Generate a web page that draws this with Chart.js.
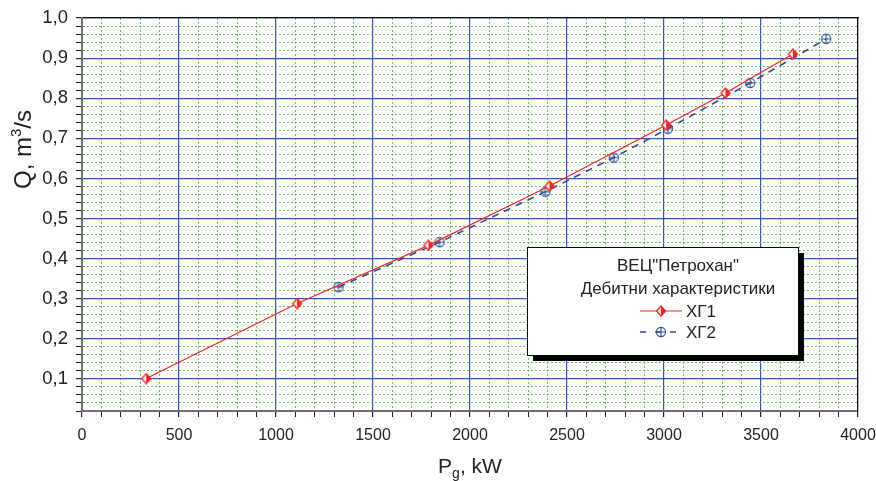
<!DOCTYPE html>
<html>
<head>
<meta charset="utf-8">
<script src="https://cdn.jsdelivr.net/npm/chart.js@4/dist/chart.umd.min.js"></script>
<style>
  body { margin: 0; background: #fff; }
  #wrap { width: 876px; height: 481px; }
</style>
</head>
<body>
<div id="wrap"><canvas id="chart"></canvas></div>
<script>
// ХГ1 and ХГ2 points (kW, m3/s)
const xg1Power = [331, 1109, 1786, 2410, 3011, 3317, 3664];
const xg1Flow = [0.101, 0.288, 0.433, 0.581, 0.733, 0.813, 0.910];
const xg2Power = [1322, 1843, 2389, 2741, 3020, 3444, 3836];
const xg2Flow = [0.329, 0.441, 0.567, 0.652, 0.724, 0.838, 0.948];

const xLabels = ['0', '500', '1000', '1500', '2000', '2500', '3000', '3500', '4000'];
const yLabels = ['0,1', '0,2', '0,3', '0,4', '0,5', '0,6', '0,7', '0,8', '0,9', '1,0'];
const seriesNames = ['ХГ1', 'ХГ2'];
const legendTitle = ['ВЕЦ"Петрохан"', 'Дебитни характеристики'];

const RED = '#ff2020';
const BLUE = '#2f4c9c';
const MAJOR = '#3556b4';
const MINOR = 'rgba(70,190,50,0.85)';
const FONT = 'Arial, "Liberation Sans", sans-serif';

// half filled diamond marker
function diamondMarker() {
  const c = document.createElement('canvas');
  c.width = 12; c.height = 12;
  const g = c.getContext('2d');
  const path = () => {
    g.beginPath();
    g.moveTo(6, 1); g.lineTo(10.5, 6); g.lineTo(6, 11); g.lineTo(1.5, 6); g.closePath();
  };
  path(); g.fillStyle = '#fff'; g.fill();
  g.beginPath();
  g.moveTo(6, 1); g.lineTo(10.5, 6); g.lineTo(6, 11); g.closePath();
  g.fillStyle = RED; g.fill();
  path(); g.strokeStyle = RED; g.lineWidth = 1.3; g.stroke();
  return c;
}

// circle with a cross
function crossMarker() {
  const c = document.createElement('canvas');
  c.width = 12; c.height = 12;
  const g = c.getContext('2d');
  g.strokeStyle = BLUE; g.lineWidth = 1.1;
  g.beginPath(); g.arc(6, 6, 4.6, 0, Math.PI * 2); g.stroke();
  g.beginPath();
  g.moveTo(1.4, 6); g.lineTo(10.6, 6);
  g.moveTo(6, 1.4); g.lineTo(6, 10.6);
  g.stroke();
  return c;
}

const redMarker = diamondMarker();
const blueMarker = crossMarker();

const isMajorX = v => Math.abs(v / 500 - Math.round(v / 500)) < 1e-6;
const isMajorY = v => Math.abs(v * 10 - Math.round(v * 10)) < 1e-6;

// legend box inside the plot area
const legendBox = {
  id: 'legendBox',
  afterDraw(chart) {
    const ctx = chart.ctx;
    const x = 527, y = 247, w = 271, h = 108;
    ctx.save();
    ctx.fillStyle = '#000';
    ctx.fillRect(x + 6, y + 6, w, h);
    ctx.fillStyle = '#fff';
    ctx.fillRect(x, y, w, h);
    ctx.strokeStyle = '#000';
    ctx.lineWidth = 1;
    ctx.strokeRect(x + 0.5, y + 0.5, w, h);

    ctx.fillStyle = '#222';
    ctx.font = '17px ' + FONT;
    ctx.textAlign = 'center';
    ctx.textBaseline = 'middle';
    ctx.fillText(legendTitle[0], 678, 266);
    ctx.fillText(legendTitle[1], 678, 289);

    ctx.textAlign = 'left';
    const rows = [
      { y: 311, color: RED, dash: [], marker: redMarker, width: 1.2 },
      { y: 332, color: BLUE, dash: [6, 9], marker: blueMarker, width: 1.6 }
    ];
    rows.forEach((r, i) => {
      ctx.strokeStyle = r.color;
      ctx.lineWidth = r.width;
      ctx.setLineDash(r.dash);
      ctx.beginPath();
      ctx.moveTo(640, r.y); ctx.lineTo(682, r.y);
      ctx.stroke();
      ctx.setLineDash([]);
      ctx.drawImage(r.marker, 661 - 6, r.y - 6);
      ctx.fillStyle = '#222';
      ctx.fillText(seriesNames[i], 686, r.y + 1);
    });
    ctx.restore();
  }
};

// draws pieces of text one after another, [text, size, shift]
function drawRun(ctx, parts, x, base) {
  parts.forEach(([t, size, shift]) => {
    ctx.font = size + 'px ' + FONT;
    ctx.fillText(t, x, base + shift);
    x += ctx.measureText(t).width;
  });
}
function runWidth(ctx, parts) {
  return parts.reduce((w, [t, size]) => {
    ctx.font = size + 'px ' + FONT;
    return w + ctx.measureText(t).width;
  }, 0);
}

// axis titles with sub/superscripts
const axisTitles = {
  id: 'axisTitles',
  afterDraw(chart) {
    const ctx = chart.ctx;
    const a = chart.chartArea;
    ctx.save();
    ctx.fillStyle = '#222';
    ctx.textBaseline = 'alphabetic';
    ctx.textAlign = 'left';

    const xParts = [['P', 21, 0], ['g', 14, 5], [', kW', 21, 0]];
    const xw = runWidth(ctx, xParts);
    drawRun(ctx, xParts, (a.left + a.right) / 2 - xw / 2, 473);

    const yParts = [['Q, m', 24, 0], ['3', 15, -10], ['/s', 24, 0]];
    const yw = runWidth(ctx, yParts);
    ctx.translate(31, 110 + yw);
    ctx.rotate(-Math.PI / 2);
    drawRun(ctx, yParts, 0, 0);
    ctx.restore();
  }
};

new Chart(document.getElementById('chart'), {
  type: 'line',
  data: {
    datasets: [{
      label: seriesNames[0],
      data: xg1Power.map((p, i) => ({ x: p, y: xg1Flow[i] })),
      borderColor: RED,
      borderWidth: 1.2,
      pointStyle: redMarker,
      tension: 0
    }, {
      label: seriesNames[1],
      data: xg2Power.map((p, i) => ({ x: p, y: xg2Flow[i] })),
      borderColor: BLUE,
      borderWidth: 1.6,
      borderDash: [7, 6],
      pointStyle: blueMarker,
      tension: 0
    }]
  },
  options: {
    responsive: true,
    maintainAspectRatio: false,
    animation: false,
    layout: { padding: { top: 18, right: 18, left: 0, bottom: 0 } },
    plugins: {
      legend: { display: false },
      tooltip: { enabled: false }
    },
    scales: {
      x: {
        type: 'linear',
        min: 0, max: 4000,
        afterFit(s) { s.height = 70; s.paddingRight = 0; s.paddingLeft = 0; },
        ticks: {
          stepSize: 100,
          autoSkip: false,
          maxRotation: 0,
          padding: 9,
          color: '#222',
          font: { size: 16, family: FONT },
          callback: v => isMajorX(v) ? xLabels[Math.round(v / 500)] : ''
        },
        grid: {
          color: c => isMajorX(c.tick.value) ? MAJOR : MINOR,
          lineWidth: c => isMajorX(c.tick.value) ? 1.2 : 1,
          tickColor: '#222',
          tickLength: 6
        },
        border: {
          color: '#707070', width: 2,
          dash: c => isMajorX(c.tick.value) ? [] : [2, 2]
        }
      },
      x2: {
        type: 'linear', position: 'top',
        min: 0, max: 4000,
        afterFit(s) { s.height = 0; s.paddingRight = 0; s.paddingLeft = 0; },
        ticks: { display: false },
        grid: { drawOnChartArea: false, drawTicks: false },
        border: { color: '#111', width: 1.2 }
      },
      y: {
        min: 0.02, max: 1.0,
        afterFit(s) { s.width = 82; s.paddingTop = 0; s.paddingBottom = 0; },
        ticks: {
          stepSize: 0.02,
          autoSkip: false,
          padding: 8,
          color: '#222',
          font: { size: 18.5, family: FONT },
          callback: v => isMajorY(v) ? yLabels[Math.round(v * 10) - 1] : ''
        },
        grid: {
          color: c => isMajorY(c.tick.value) ? MAJOR : MINOR,
          lineWidth: c => isMajorY(c.tick.value) ? 1.2 : 1,
          tickColor: '#222',
          tickLength: 6
        },
        border: {
          color: '#707070', width: 2,
          dash: c => isMajorY(c.tick.value) ? [] : [2, 2]
        }
      },
      y2: {
        position: 'right',
        min: 0.02, max: 1.0,
        afterFit(s) { s.width = 0; s.paddingTop = 0; s.paddingBottom = 0; },
        ticks: { display: false },
        grid: { drawOnChartArea: false, drawTicks: false },
        border: { color: '#111', width: 1.2 }
      }
    }
  },
  plugins: [legendBox, axisTitles]
});
</script>
</body>
</html>
